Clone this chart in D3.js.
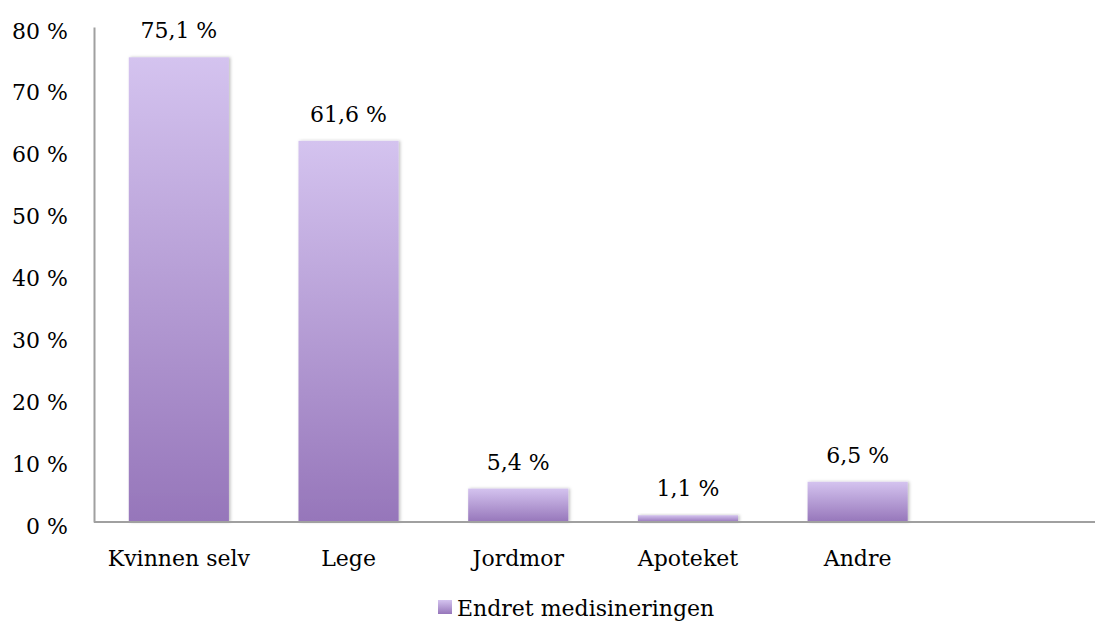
<!DOCTYPE html>
<html>
<head>
<meta charset="utf-8">
<script src="https://cdn.jsdelivr.net/npm/d3@7"></script>
<style>
  html, body { margin: 0; padding: 0; background: #fff; }
  svg { display: block; }
  text { font-family: "DejaVu Serif", serif; fill: #000; }
</style>
</head>
<body>
<svg id="chart" width="1095" height="623"></svg>
<script>
// Who changed the medication (share of respondents, %)
const categories = ["Kvinnen selv", "Lege", "Jordmor", "Apoteket", "Andre", ""];
const values = [75.1, 61.6, 5.4, 1.1, 6.5];
const yTicks = [0, 10, 20, 30, 40, 50, 60, 70, 80];
const seriesName = "Endret medisineringen";

const fmt = v => String(v).replace(".", ",") + " %";

const svg = d3.select("#chart");
const W = 1095, H = 623;
const left = 94, baseY = 522, topY = 27;
const fontSize = 22;

const x = d3.scaleBand().domain(categories).range([left, left + 6 * 169.7]).paddingInner(0.41).paddingOuter(0.205);
const y = d3.scaleLinear().domain([0, 80]).range([baseY, topY]);

const defs = svg.append("defs");
const grad = defs.append("linearGradient").attr("id", "barGrad")
  .attr("x1", 0).attr("y1", 0).attr("x2", 0).attr("y2", 1);
grad.append("stop").attr("offset", "0%").attr("stop-color", "#d4c3ef");
grad.append("stop").attr("offset", "100%").attr("stop-color", "#9676ba");

const legGrad = defs.append("linearGradient").attr("id", "legGrad")
  .attr("x1", 0).attr("y1", 0).attr("x2", 0).attr("y2", 1);
legGrad.append("stop").attr("offset", "0%").attr("stop-color", "#d4c3ef");
legGrad.append("stop").attr("offset", "100%").attr("stop-color", "#9676ba");

const shadow = defs.append("filter").attr("id", "shadow")
  .attr("x", "-20%").attr("y", "-20%").attr("width", "140%").attr("height", "140%");
shadow.append("feDropShadow").attr("dx", 1.5).attr("dy", 0).attr("stdDeviation", 1.5)
  .attr("flood-color", "#000").attr("flood-opacity", 0.25);

// Bars
const data = values.map((v, i) => ({ cat: categories[i], v }));
svg.append("g").selectAll("rect").data(data).join("rect")
  .attr("x", d => x(d.cat))
  .attr("width", x.bandwidth())
  .attr("y", d => y(d.v))
  .attr("height", d => y(0) - y(d.v))
  .attr("fill", "url(#barGrad)")
  .attr("filter", "url(#shadow)");

// Value labels
svg.append("g").selectAll("text").data(data).join("text")
  .attr("x", d => x(d.cat) + x.bandwidth() / 2)
  .attr("y", d => y(d.v) - 19)
  .attr("text-anchor", "middle")
  .attr("font-size", fontSize)
  .text(d => fmt(d.v));

// Y axis
const yAxis = d3.axisLeft(y).tickValues(yTicks).tickSize(0).tickPadding(26)
  .tickFormat(d => d + " %");
const gy = svg.append("g").attr("transform", `translate(${left},0)`).call(yAxis);
gy.select(".domain").attr("stroke", "#a0a0a0").attr("stroke-width", 2);
gy.selectAll("text").attr("font-size", fontSize).attr("font-family", "DejaVu Serif")
  .attr("dy", "0.32em").attr("y", 4);

// X axis
const xAxis = d3.axisBottom(x).tickSize(0).tickPadding(28);
const gx = svg.append("g").attr("transform", `translate(0,${baseY})`).call(xAxis);
gx.select(".domain").attr("stroke", "#a0a0a0").attr("stroke-width", 2)
  .attr("d", `M${left},0H${W}`);
gx.selectAll("text").attr("font-size", fontSize).attr("font-family", "DejaVu Serif");

// Legend
const legend = svg.append("g");
legend.append("text")
  .attr("x", 457).attr("y", 608).attr("dy", "0.35em")
  .attr("font-size", fontSize).text(seriesName);
legend.append("rect").attr("x", 438).attr("y", 600).attr("width", 14).attr("height", 14)
  .attr("fill", "url(#legGrad)");
</script>
</body>
</html>
